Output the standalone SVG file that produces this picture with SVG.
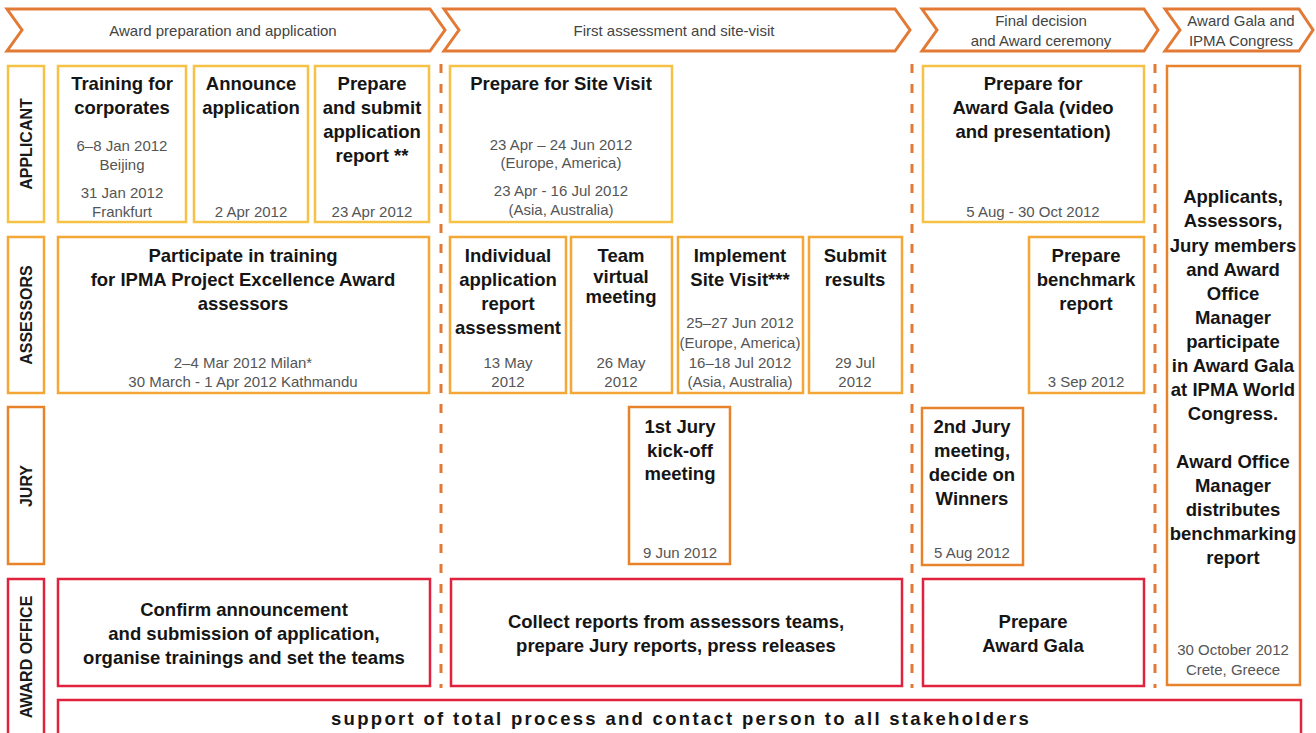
<svg xmlns="http://www.w3.org/2000/svg" width="1316" height="733" viewBox="0 0 1316 733">
<style>
.bg{fill:#fff}
.hdr{fill:#fff;stroke:#e27a36;stroke-width:3;stroke-linejoin:miter}
.box{fill:#fff;stroke-width:2.5}
.app{stroke:#f5c246}
.ass{stroke:#f2a737}
.jur{stroke:#e8832b}
.off{stroke:#e1223f}
.div{stroke:#e27a36;stroke-width:3;stroke-dasharray:9 11;fill:none}
text{font-family:"Liberation Sans",Arial,sans-serif;text-anchor:middle}
.t{font-weight:bold;font-size:18.5px;fill:#151515}
.d{font-size:15px;fill:#555}
.h{font-size:15px;fill:#444}
.lane{font-weight:bold;font-size:16px;fill:#1a1a1a}
.sup{font-weight:bold;font-size:18.5px;fill:#151515;letter-spacing:2.3px}
</style>
<rect class="bg" x="0" y="0" width="1316" height="733"/>

<g id="phases">
  <g id="phase1">
    <polygon class="hdr" points="7,9 430,9 445,30 430,51 7,51 22,30"/>
    <text class="h" x="223" y="36">Award preparation and application</text>
  </g>
  <g id="phase2">
    <polygon class="hdr" points="444,9 895,9 910,30 895,51 444,51 459,30"/>
    <text class="h" x="674" y="36">First assessment and site-visit</text>
  </g>
  <g id="phase3">
    <polygon class="hdr" points="922,9 1144,9 1158,30 1144,51 922,51 937,30"/>
    <text class="h" x="1041" y="26">Final decision</text>
    <text class="h" x="1041" y="46">and Award ceremony</text>
  </g>
  <g id="phase4">
    <polygon class="hdr" points="1165,9 1299,9 1313,30 1299,51 1165,51 1180,30"/>
    <text class="h" x="1241" y="26">Award Gala and</text>
    <text class="h" x="1241" y="46">IPMA Congress</text>
  </g>
</g>

<g id="dividers">
  <line class="div" x1="441" y1="64" x2="441" y2="688"/>
  <line class="div" x1="912" y1="64" x2="912" y2="688"/>
  <line class="div" x1="1155" y1="64" x2="1155" y2="688"/>
</g>

<g id="lane-applicant">
  <rect class="box app" x="8" y="66" width="36" height="156"/>
  <text class="lane" transform="translate(26,144) rotate(-90)" x="0" y="6">APPLICANT</text>
</g>
<g id="lane-assessors">
  <rect class="box ass" x="8" y="237" width="36" height="156"/>
  <text class="lane" transform="translate(26,315) rotate(-90)" x="0" y="6">ASSESSORS</text>
</g>
<g id="lane-jury">
  <rect class="box jur" x="8" y="407" width="36" height="157"/>
  <text class="lane" transform="translate(26,486) rotate(-90)" x="0" y="6">JURY</text>
</g>
<g id="lane-office">
  <rect class="box off" x="8" y="579" width="36" height="170"/>
  <text class="lane" transform="translate(26,657) rotate(-90)" x="0" y="6">AWARD OFFICE</text>
</g>

<g id="training-corporates">
  <rect class="box app" x="58" y="66" width="128" height="156"/>
  <text class="t" x="122" y="90">Training for</text>
  <text class="t" x="122" y="114">corporates</text>
  <text class="d" x="122" y="151">6–8 Jan 2012</text>
  <text class="d" x="122" y="170">Beijing</text>
  <text class="d" x="122" y="198">31 Jan  2012</text>
  <text class="d" x="122" y="217">Frankfurt</text>
</g>
<g id="announce-application">
  <rect class="box app" x="194" y="66" width="114" height="156"/>
  <text class="t" x="251" y="90">Announce</text>
  <text class="t" x="251" y="114">application</text>
  <text class="d" x="251" y="217">2 Apr 2012</text>
</g>
<g id="submit-application">
  <rect class="box app" x="315" y="66" width="114" height="156"/>
  <text class="t" x="372" y="90">Prepare</text>
  <text class="t" x="372" y="114">and submit</text>
  <text class="t" x="372" y="138">application</text>
  <text class="t" x="372" y="162">report **</text>
  <text class="d" x="372" y="217">23 Apr 2012</text>
</g>
<g id="prepare-site-visit">
  <rect class="box app" x="450" y="66" width="222" height="156"/>
  <text class="t" x="561" y="90">Prepare for Site Visit</text>
  <text class="d" x="561" y="150">23 Apr – 24 Jun 2012</text>
  <text class="d" x="561" y="168">(Europe, America)</text>
  <text class="d" x="561" y="196">23 Apr - 16 Jul 2012</text>
  <text class="d" x="561" y="215">(Asia, Australia)</text>
</g>
<g id="prepare-gala-video">
  <rect class="box app" x="923" y="66" width="221" height="156"/>
  <text class="t" x="1033" y="90">Prepare for</text>
  <text class="t" x="1033" y="114">Award Gala (video</text>
  <text class="t" x="1033" y="138">and presentation)</text>
  <text class="d" x="1033" y="217">5 Aug - 30 Oct 2012</text>
</g>

<g id="assessor-training">
  <rect class="box ass" x="58" y="237" width="371" height="156"/>
  <text class="t" x="243" y="262">Participate in training</text>
  <text class="t" x="243" y="286">for IPMA Project Excellence Award</text>
  <text class="t" x="243" y="310">assessors</text>
  <text class="d" x="243" y="368">2–4 Mar 2012 Milan*</text>
  <text class="d" x="243" y="387">30 March - 1 Apr 2012 Kathmandu</text>
</g>
<g id="individual-assessment">
  <rect class="box ass" x="450" y="237" width="116" height="156"/>
  <text class="t" x="508" y="262">Individual</text>
  <text class="t" x="508" y="286">application</text>
  <text class="t" x="508" y="310">report</text>
  <text class="t" x="508" y="334">assessment</text>
  <text class="d" x="508" y="368">13 May</text>
  <text class="d" x="508" y="387">2012</text>
</g>
<g id="team-meeting">
  <rect class="box ass" x="571" y="237" width="101" height="156"/>
  <text class="t" x="621" y="262">Team</text>
  <text class="t" x="621" y="283">virtual</text>
  <text class="t" x="621" y="303">meeting</text>
  <text class="d" x="621" y="368">26 May</text>
  <text class="d" x="621" y="387">2012</text>
</g>
<g id="implement-site-visit">
  <rect class="box ass" x="678" y="237" width="125" height="156"/>
  <text class="t" x="740" y="262">Implement</text>
  <text class="t" x="740" y="286">Site Visit***</text>
  <text class="d" x="740" y="328">25–27 Jun 2012</text>
  <text class="d" x="740" y="348">(Europe, America)</text>
  <text class="d" x="740" y="368">16–18 Jul 2012</text>
  <text class="d" x="740" y="387">(Asia, Australia)</text>
</g>
<g id="submit-results">
  <rect class="box ass" x="809" y="237" width="93" height="156"/>
  <text class="t" x="855" y="262">Submit</text>
  <text class="t" x="855" y="286">results</text>
  <text class="d" x="855" y="368">29 Jul</text>
  <text class="d" x="855" y="387">2012</text>
</g>
<g id="benchmark-report">
  <rect class="box ass" x="1029" y="237" width="115" height="156"/>
  <text class="t" x="1086" y="262">Prepare</text>
  <text class="t" x="1086" y="286">benchmark</text>
  <text class="t" x="1086" y="310">report</text>
  <text class="d" x="1086" y="387">3 Sep 2012</text>
</g>

<g id="first-jury">
  <rect class="box jur" x="629" y="407" width="101" height="157"/>
  <text class="t" x="680" y="433">1st Jury</text>
  <text class="t" x="680" y="457">kick-off</text>
  <text class="t" x="680" y="480">meeting</text>
  <text class="d" x="680" y="558">9 Jun 2012</text>
</g>
<g id="second-jury">
  <rect class="box jur" x="922" y="408" width="101" height="157"/>
  <text class="t" x="972" y="433">2nd Jury</text>
  <text class="t" x="972" y="457">meeting,</text>
  <text class="t" x="972" y="481">decide on</text>
  <text class="t" x="972" y="505">Winners</text>
  <text class="d" x="972" y="558">5 Aug 2012</text>
</g>

<g id="gala-congress">
  <rect class="box jur" x="1167" y="66" width="133" height="619"/>
  <text class="t" x="1233" y="203">Applicants,</text>
  <text class="t" x="1233" y="227">Assessors,</text>
  <text class="t" x="1233" y="252">Jury members</text>
  <text class="t" x="1233" y="276">and Award</text>
  <text class="t" x="1233" y="300">Office</text>
  <text class="t" x="1233" y="324">Manager</text>
  <text class="t" x="1233" y="348">participate</text>
  <text class="t" x="1233" y="372">in Award Gala</text>
  <text class="t" x="1233" y="396">at IPMA World</text>
  <text class="t" x="1233" y="420">Congress.</text>
  <text class="t" x="1233" y="468">Award Office</text>
  <text class="t" x="1233" y="492">Manager</text>
  <text class="t" x="1233" y="516">distributes</text>
  <text class="t" x="1233" y="540">benchmarking</text>
  <text class="t" x="1233" y="564">report</text>
  <text class="d" x="1233" y="655">30 October 2012</text>
  <text class="d" x="1233" y="675">Crete, Greece</text>
</g>

<g id="confirm-announcement">
  <rect class="box off" x="58" y="579" width="372" height="107"/>
  <text class="t" x="244" y="616">Confirm announcement</text>
  <text class="t" x="244" y="640">and submission of application,</text>
  <text class="t" x="244" y="664">organise trainings and set the teams</text>
</g>
<g id="collect-reports">
  <rect class="box off" x="451" y="579" width="451" height="107"/>
  <text class="t" x="676" y="628">Collect reports from assessors teams,</text>
  <text class="t" x="676" y="652">prepare Jury reports, press releases</text>
</g>
<g id="prepare-gala">
  <rect class="box off" x="923" y="579" width="221" height="107"/>
  <text class="t" x="1033" y="628">Prepare</text>
  <text class="t" x="1033" y="652">Award Gala</text>
</g>
<g id="support">
  <rect class="box off" x="58" y="700" width="1243" height="50"/>
  <text class="sup" x="681" y="725">support of total process and contact person to all stakeholders</text>
</g>
</svg>
